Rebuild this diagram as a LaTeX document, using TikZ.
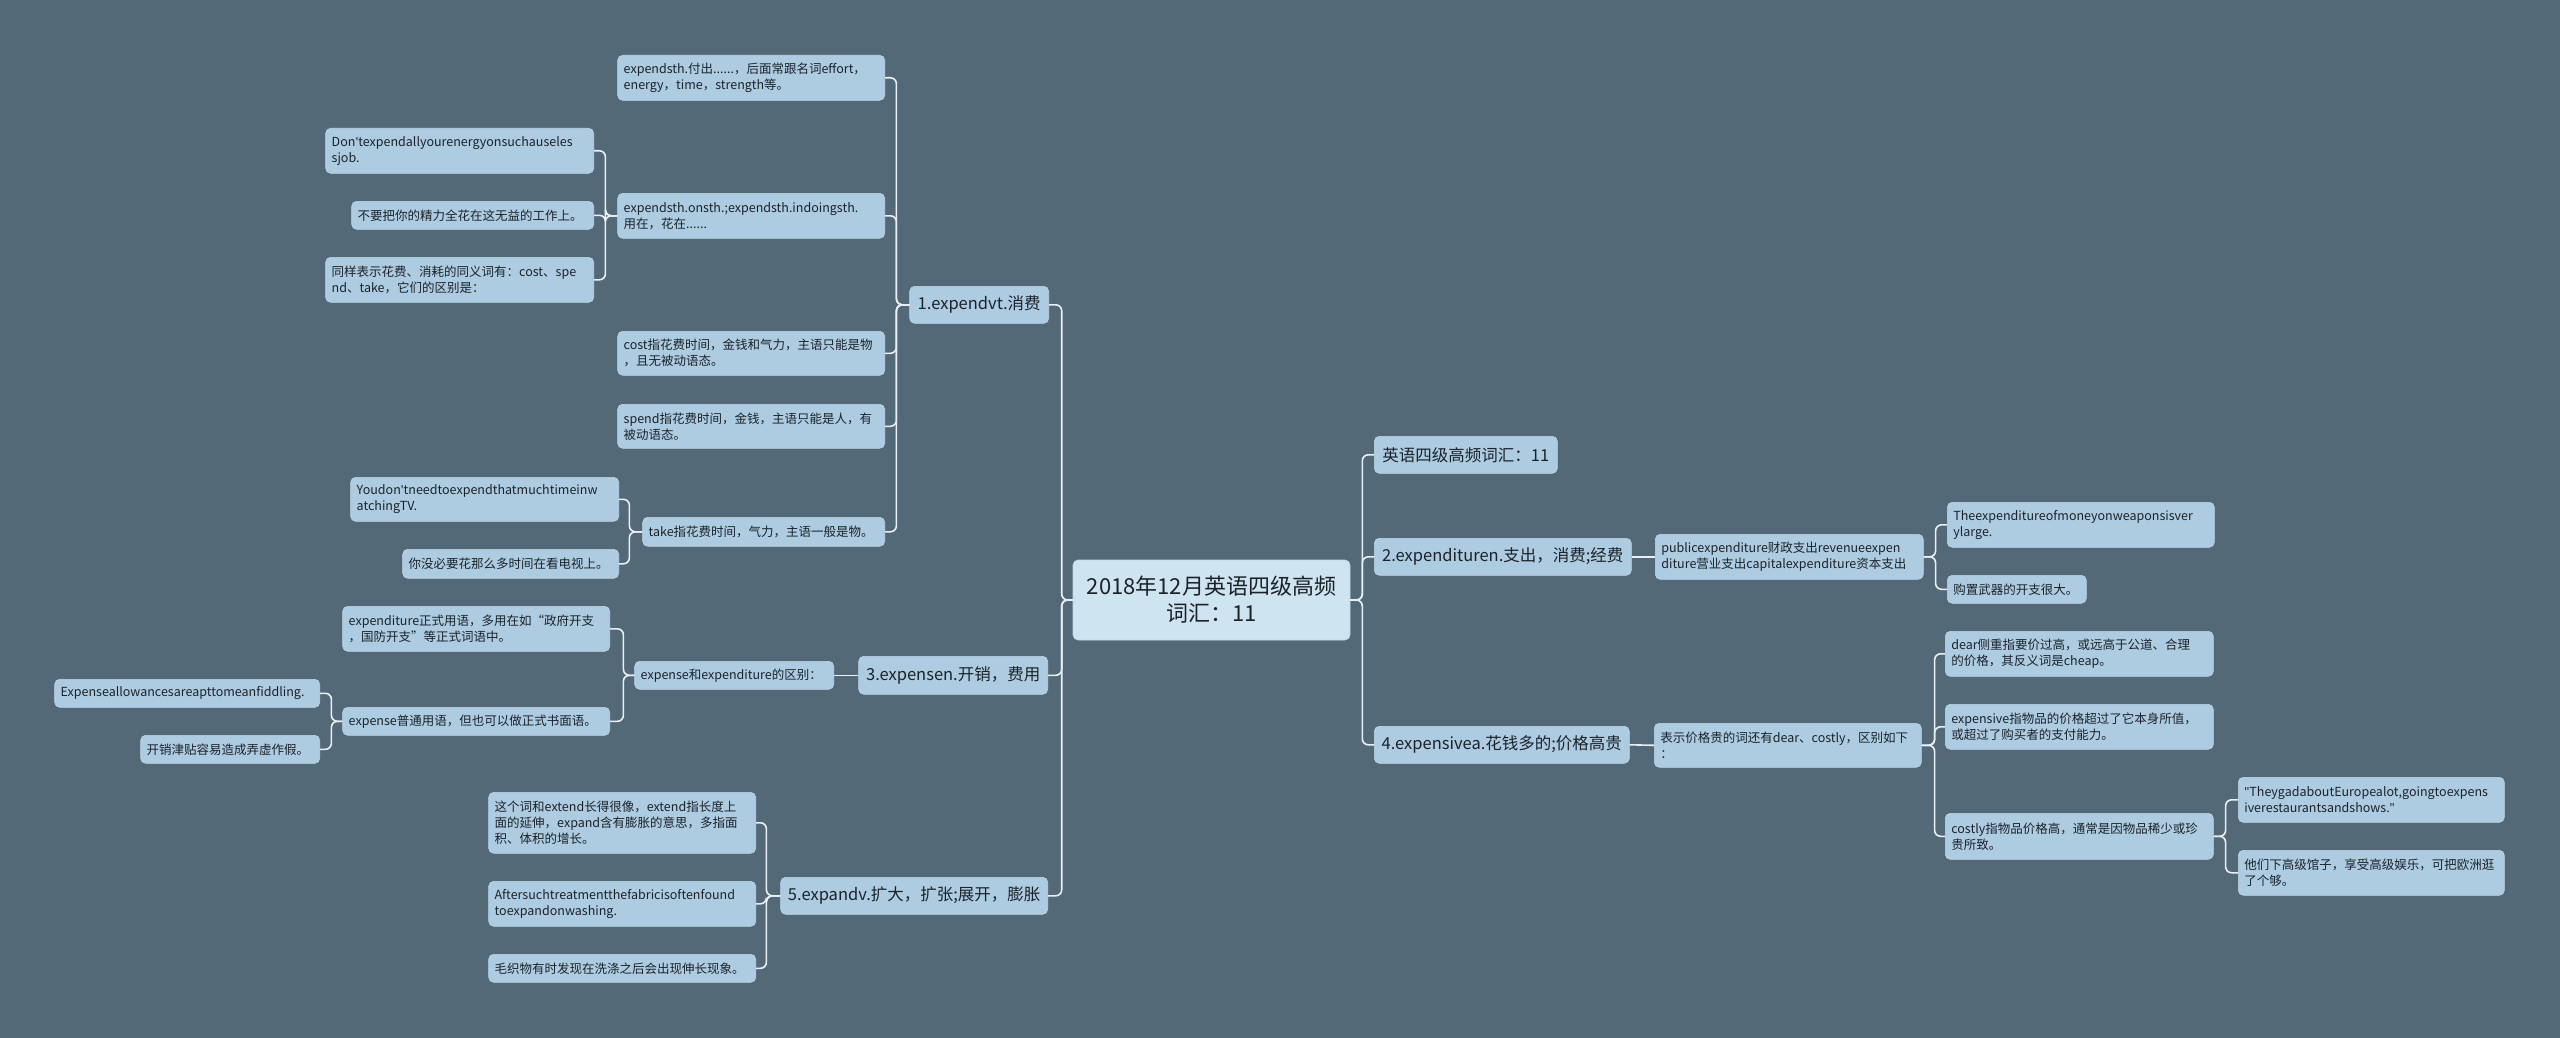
\documentclass[tikz,border=0pt]{standalone}
\usepackage{fontspec}
\setmainfont{Noto Sans CJK SC}
\newfontfamily\latinf{Noto Sans}
\usetikzlibrary{positioning}
\definecolor{bgc}{RGB}{84,105,120}
\definecolor{leafc}{RGB}{173,204,226}
\definecolor{rootc}{RGB}{207,228,241}
\definecolor{linec}{RGB}{232,240,246}
\definecolor{txtc}{RGB}{28,34,40}
\newcommand{\apos}{{\latinf'}}
\newcommand{\dq}{{\latinf"}}

\begin{document}
\begin{tikzpicture}[x=1pt,y=-1pt,
  box/.style={rectangle,rounded corners=5pt,fill=leafc,draw=leafc!80!white,line width=0.6pt,text=txtc},
  leaf/.style={box,font=\fontsize{12.5}{16}\selectfont,align=left,inner xsep=6pt,inner ysep=2pt},
  topic/.style={box,font=\fontsize{16.5}{20}\selectfont,align=left,inner xsep=7pt,inner ysep=2pt},
  lft/.style={anchor=north east},
  rgt/.style={anchor=north west},
  conn/.style={draw=linec,line width=1.6pt,rounded corners=6pt}]
\fill[bgc] (0,0) rectangle (2560,1038);
\useasboundingbox (0,0) rectangle (2560,1038);

% centre
\node[box,fill=rootc,font=\fontsize{22}{27}\selectfont,align=center,minimum width=277pt,minimum height=80pt] (root) at (1211.5,600) {2018年12月英语四级高频\\词汇：11};

% left: 1
\node[topic,lft,minimum width=139pt,minimum height=37pt] (t1) at (1049,286) {1.expendvt.消费};
\node[leaf,lft,text width=255pt,minimum height=45pt] (e1) at (885,55) {expendsth.付出......，后面常跟名词effort，\\energy，time，strength等。};
\node[leaf,lft,text width=255pt,minimum height=45pt] (e2) at (885,193) {expendsth.onsth.;expendsth.indoingsth.\\用在，花在......};
\node[leaf,lft,text width=256pt,minimum height=45pt] (e2a) at (594,128) {Don\apos texpendallyourenergyonsuchauseles\\sjob.};
\node[leaf,lft,text width=230pt,minimum height=28pt] (e2b) at (594,201) {不要把你的精力全花在这无益的工作上。};
\node[leaf,lft,text width=256pt,minimum height=45pt] (e2c) at (594,257) {同样表示花费、消耗的同义词有：cost、spe\\nd、take，它们的区别是：};
\node[leaf,lft,text width=255pt,minimum height=44pt] (e3) at (885,331) {cost指花费时间，金钱和气力，主语只能是物\\，且无被动语态。};
\node[leaf,lft,text width=255pt,minimum height=44pt] (e4) at (885,404) {spend指花费时间，金钱，主语只能是人，有\\被动语态。};
\node[leaf,lft,text width=230pt,minimum height=29pt] (e5) at (885,517) {take指花费时间，气力，主语一般是物。};
\node[leaf,lft,text width=256pt,minimum height=44pt] (e5a) at (619,477) {Youdon\apos tneedtoexpendthatmuchtimeinw\\atchingTV.};
\node[leaf,lft,text width=204pt,minimum height=29pt] (e5b) at (619,549) {你没必要花那么多时间在看电视上。};

% left: 3
\node[topic,lft,minimum width=189pt,minimum height=38pt] (t3) at (1048,656) {3.expensen.开销，费用};
\node[leaf,lft,text width=187pt,minimum height=28pt] (x1) at (834,661) {expense和expenditure的区别：};
\node[leaf,lft,text width=255pt,minimum height=45pt] (x1a) at (610,606) {expenditure正式用语，多用在如“政府开支\\，国防开支”等正式词语中。};
\node[leaf,lft,text width=255pt,minimum height=28pt] (x1b) at (610,707) {expense普通用语，但也可以做正式书面语。};
\node[leaf,lft,text width=253pt,minimum height=28pt] (x1b1) at (320,679) {Expenseallowancesareapttomeanfiddling.};
\node[leaf,lft,text width=167pt,minimum height=28pt] (x1b2) at (320,735) {开销津贴容易造成弄虚作假。};

% left: 5
\node[topic,lft,minimum width=267pt,minimum height=37pt] (t5) at (1048,877) {5.expandv.扩大，扩张;展开，膨胀};
\node[leaf,lft,text width=255pt,minimum height=61pt] (p1) at (756,792) {这个词和extend长得很像，extend指长度上\\面的延伸，expand含有膨胀的意思，多指面\\积、体积的增长。};
\node[leaf,lft,text width=255pt,minimum height=45pt] (p2) at (756,881) {Aftersuchtreatmentthefabricisoftenfound\\toexpandonwashing.};
\node[leaf,lft,text width=255pt,minimum height=28pt] (p3) at (756,954) {毛织物有时发现在洗涤之后会出现伸长现象。};

% right
\node[topic,rgt,minimum width=183pt,minimum height=37pt] (t0) at (1374,436) {英语四级高频词汇：11};
\node[topic,rgt,minimum width=257pt,minimum height=37pt] (t2) at (1374,538) {2.expendituren.支出，消费;经费};
\node[topic,rgt,minimum width=255pt,minimum height=37pt] (t4) at (1374,726) {4.expensivea.花钱多的;价格高贵};
\node[leaf,rgt,text width=256pt,minimum height=45pt] (d1) at (1655,534) {publicexpenditure财政支出revenueexpen\\diture营业支出capitalexpenditure资本支出};
\node[leaf,rgt,text width=255pt,minimum height=45pt] (d1a) at (1947,502) {Theexpenditureofmoneyonweaponsisver\\ylarge.};
\node[leaf,rgt,text width=127pt,minimum height=28pt] (d1b) at (1947,575) {购置武器的开支很大。};
\node[leaf,rgt,text width=255pt,minimum height=44pt] (s1) at (1654,723) {表示价格贵的词还有dear、costly，区别如下\\：};
\node[leaf,rgt,text width=256pt,minimum height=45pt] (s1a) at (1945,631) {dear侧重指要价过高，或远高于公道、合理\\的价格，其反义词是cheap。};
\node[leaf,rgt,text width=256pt,minimum height=45pt] (s1b) at (1945,704) {expensive指物品的价格超过了它本身所值，\\或超过了购买者的支付能力。};
\node[leaf,rgt,text width=256pt,minimum height=46pt] (s1c) at (1945,813) {costly指物品价格高，通常是因物品稀少或珍\\贵所致。};
\node[leaf,rgt,text width=254pt,minimum height=45pt] (s1c1) at (2238,777) {\dq TheygadaboutEuropealot,goingtoexpens\\iverestaurantsandshows.\dq};
\node[leaf,rgt,text width=254pt,minimum height=45pt] (s1c2) at (2238,850) {他们下高级馆子，享受高级娱乐，可把欧洲逛\\了个够。};

% connectors
\foreach \c in {t1,t3,t5} \draw[conn] (root.west) -- ++(-11,0) |- (\c.east);
\foreach \c in {t0,t2,t4} \draw[conn] (root.east) -- ++(12,0) |- (\c.west);
\foreach \c in {e1,e2,e3,e4,e5} \draw[conn] (t1.west) -- ++(-13,0) |- (\c.east);
\foreach \c in {e2a,e2b,e2c} \draw[conn] (e2.west) -- ++(-12,0) |- (\c.east);
\foreach \c in {e5a,e5b} \draw[conn] (e5.west) -- ++(-13,0) |- (\c.east);
\draw[conn] (t3.west) -- (x1.east);
\foreach \c in {x1a,x1b} \draw[conn] (x1.west) -- ++(-11,0) |- (\c.east);
\foreach \c in {x1b1,x1b2} \draw[conn] (x1b.west) -- ++(-11,0) |- (\c.east);
\foreach \c in {p1,p2,p3} \draw[conn] (t5.west) -- ++(-14,0) |- (\c.east);
\draw[conn] (t2.east) -- (d1.west);
\foreach \c in {d1a,d1b} \draw[conn] (d1.east) -- ++(12,0) |- (\c.west);
\draw[conn] (t4.east) -- (s1.west);
\foreach \c in {s1a,s1b,s1c} \draw[conn] (s1.east) -- ++(13,0) |- (\c.west);
\foreach \c in {s1c1,s1c2} \draw[conn] (s1c.east) -- ++(12,0) |- (\c.west);
\end{tikzpicture}
\end{document}
